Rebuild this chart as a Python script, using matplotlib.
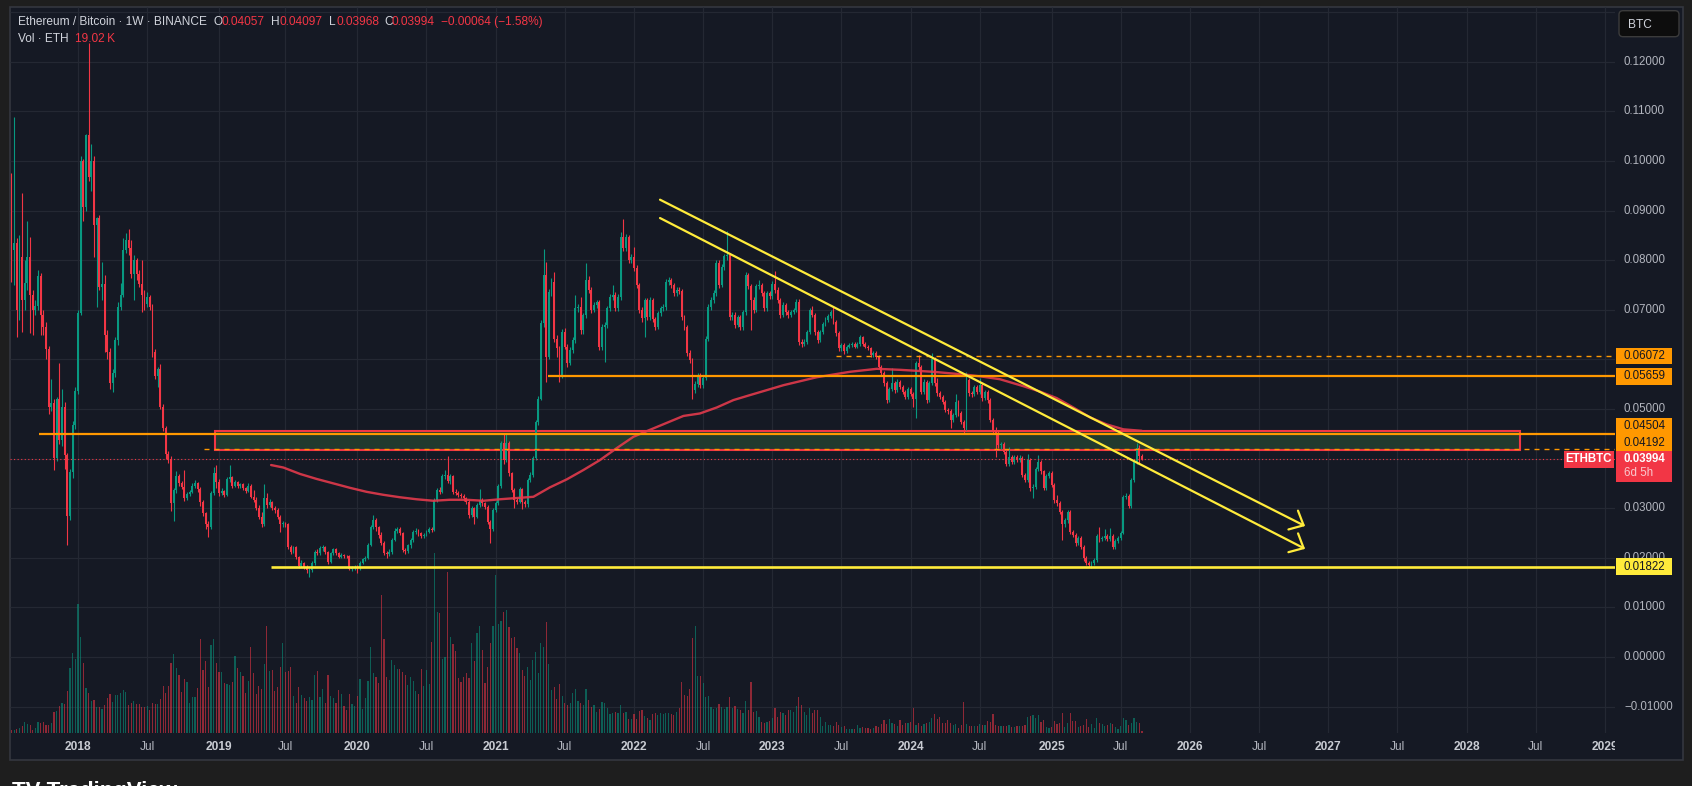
import datetime as dt
import numpy as np
import matplotlib
matplotlib.use("Agg")
import matplotlib.pyplot as plt
from matplotlib.patches import Rectangle, FancyBboxPatch
from matplotlib.transforms import IdentityTransform, Bbox, blended_transform_factory

plt.rcParams['font.family'] = ['Liberation Sans', 'DejaVu Sans']

W, H, DPI = 1692, 786, 100

# ---------------- data (prices in units of 0.0001 BTC) ----------------
first_week = dt.date(2017, 7, 10)
price_unit = 1e-4
first_open = 970

close = [
    821, 834, 700, 807, 720, 755, 807, 730, 700, 708,
    768, 690, 665, 620, 505, 512, 401, 520, 438, 505,
    407, 284, 373, 468, 537, 693, 1000, 908, 1052, 968,
    1000, 870, 885, 746, 752, 650, 615, 552, 572, 639,
    706, 730, 821, 840, 825, 773, 800, 773, 752, 730,
    712, 725, 706, 615, 567, 580, 505, 461, 410, 400,
    310, 336, 364, 350, 342, 320, 328, 333, 345, 350,
    338, 313, 290, 268, 262, 330, 370, 352, 330, 334,
    327, 358, 362, 345, 352, 344, 348, 340, 335, 345,
    323, 317, 300, 283, 269, 320, 306, 312, 300, 297,
    283, 269, 270, 268, 222, 212, 222, 202, 184, 189,
    182, 175, 176, 189, 212, 209, 219, 222, 212, 192,
    209, 217, 210, 202, 206, 204, 203, 177, 179, 182,
    179, 190, 197, 199, 226, 263, 277, 262, 246, 229,
    209, 208, 212, 236, 255, 259, 250, 216, 214, 225,
    236, 253, 255, 249, 244, 246, 253, 259, 257, 317,
    337, 333, 364, 367, 354, 364, 333, 331, 327, 324,
    320, 313, 286, 300, 283, 306, 317, 310, 303, 273,
    259, 296, 310, 344, 431, 397, 431, 370, 337, 316,
    313, 338, 313, 308, 357, 367, 401, 474, 521, 673,
    770, 605, 736, 757, 642, 622, 568, 656, 626, 593,
    619, 639, 703, 706, 659, 689, 761, 740, 700, 710,
    716, 624, 666, 670, 703, 726, 730, 703, 726, 847,
    824, 847, 800, 807, 784, 750, 700, 683, 720, 686,
    720, 681, 666, 693, 703, 706, 757, 760, 750, 733,
    740, 738, 686, 666, 612, 599, 538, 550, 568, 548,
    562, 642, 706, 720, 733, 795, 750, 787, 808, 810,
    686, 690, 670, 686, 666, 696, 770, 747, 720, 700,
    747, 750, 733, 703, 733, 727, 753, 740, 720, 690,
    710, 696, 690, 696, 700, 716, 636, 632, 636, 656,
    700, 690, 656, 640, 656, 672, 680, 688, 696, 676,
    653, 622, 630, 616, 626, 630, 632, 626, 632, 645,
    632, 626, 622, 609, 613, 605, 585, 572, 552, 518,
    541, 552, 538, 555, 545, 535, 525, 541, 531, 520,
    592, 585, 535, 555, 518, 552, 600, 552, 532, 525,
    515, 498, 495, 478, 488, 515, 491, 474, 461, 558,
    532, 530, 545, 535, 548, 522, 535, 518, 478, 458,
    451, 427, 429, 414, 390, 404, 394, 404, 398, 401,
    367, 357, 397, 340, 343, 380, 394, 374, 340, 364,
    370, 347, 316, 310, 293, 269, 276, 293, 253, 246,
    229, 239, 222, 199, 189, 186, 189, 196, 243, 237,
    239, 243, 238, 243, 222, 233, 239, 251, 323, 325,
    304, 357, 394, 421, 405.7, 399.4,
]

high = [
    975, 1088, 845, 850, 935, 800, 880, 847, 740, 720,
    780, 775, 700, 675, 628, 560, 520, 525, 593, 540,
    515, 412, 380, 475, 545, 700, 1010, 1005, 1055, 1237,
    1035, 1010, 888, 892, 796, 770, 660, 622, 580, 645,
    715, 755, 845, 855, 862, 840, 810, 805, 780, 800,
    740, 735, 730, 712, 620, 585, 590, 510, 465, 415,
    405, 340, 375, 368, 355, 378, 333, 337, 350, 356,
    352, 342, 316, 293, 275, 335, 384, 387, 358, 340,
    336, 362, 387, 364, 356, 354, 351, 350, 342, 350,
    348, 337, 323, 306, 293, 349, 330, 318, 315, 305,
    300, 287, 275, 273, 270, 225, 224, 224, 204, 195,
    192, 186, 180, 193, 215, 217, 224, 226, 224, 214,
    212, 220, 220, 212, 209, 208, 206, 205, 184, 185,
    186, 193, 200, 203, 230, 266, 286, 280, 265, 252,
    233, 213, 218, 240, 260, 263, 262, 253, 220, 228,
    240, 257, 260, 258, 252, 250, 256, 262, 263, 320,
    341, 342, 368, 377, 405, 368, 366, 338, 335, 331,
    328, 323, 316, 305, 303, 310, 338, 320, 313, 306,
    277, 300, 315, 348, 436, 451, 451, 436, 373, 340,
    320, 342, 340, 316, 360, 372, 405, 478, 526, 680,
    822, 797, 742, 765, 777, 650, 628, 662, 664, 632,
    624, 645, 730, 712, 726, 694, 794, 768, 745, 716,
    720, 720, 672, 676, 708, 731, 750, 735, 732, 857,
    883, 852, 851, 813, 827, 790, 755, 706, 724, 724,
    725, 724, 686, 697, 708, 712, 762, 766, 764, 755,
    745, 746, 742, 690, 670, 618, 603, 556, 573, 572,
    566, 647, 712, 725, 740, 800, 800, 792, 813, 858,
    815, 696, 695, 690, 690, 700, 776, 775, 752, 726,
    752, 760, 755, 737, 738, 738, 758, 779, 745, 724,
    715, 714, 700, 700, 704, 721, 721, 642, 641, 660,
    704, 708, 694, 660, 660, 676, 685, 692, 700, 708,
    680, 657, 634, 634, 630, 634, 636, 636, 636, 650,
    648, 636, 630, 626, 617, 616, 608, 589, 576, 556,
    545, 582, 556, 560, 558, 549, 539, 545, 544, 535,
    597, 609, 589, 560, 559, 556, 612, 604, 563, 536,
    529, 519, 503, 499, 492, 530, 519, 495, 478, 575,
    562, 537, 549, 549, 562, 552, 539, 539, 522, 482,
    464, 455, 434, 433, 418, 423, 408, 408, 407, 407,
    405, 371, 410, 401, 348, 384, 407, 398, 378, 368,
    375, 374, 351, 327, 314, 297, 281, 297, 297, 257,
    250, 243, 243, 226, 203, 193, 193, 200, 247, 263,
    244, 258, 247, 261, 247, 237, 243, 255, 327, 330,
    329, 361, 398, 432, 428, 409.7,
]

low = [
    757, 750, 646, 680, 655, 700, 740, 653, 650, 690,
    700, 650, 650, 600, 490, 495, 378, 395, 430, 425,
    380, 226, 276, 360, 460, 530, 690, 880, 900, 960,
    940, 807, 706, 740, 720, 615, 600, 540, 535, 565,
    630, 700, 725, 815, 810, 765, 720, 760, 745, 695,
    700, 705, 700, 605, 560, 545, 500, 455, 400, 392,
    295, 275, 330, 345, 338, 315, 316, 324, 330, 340,
    332, 305, 284, 258, 242, 258, 326, 340, 325, 326,
    322, 325, 352, 340, 342, 340, 340, 336, 330, 332,
    320, 312, 296, 278, 262, 265, 300, 302, 296, 290,
    278, 253, 262, 262, 218, 208, 210, 198, 180, 181,
    178, 170, 162, 172, 186, 205, 206, 214, 208, 188,
    190, 206, 206, 199, 200, 200, 199, 175, 174, 176,
    170, 176, 187, 194, 197, 224, 258, 255, 240, 226,
    205, 200, 204, 208, 233, 250, 245, 212, 208, 210,
    220, 232, 248, 244, 240, 240, 243, 250, 253, 255,
    313, 328, 330, 358, 350, 348, 329, 326, 322, 320,
    315, 308, 280, 283, 269, 280, 302, 305, 298, 268,
    229, 255, 292, 306, 340, 390, 393, 365, 332, 300,
    308, 310, 298, 303, 303, 352, 362, 398, 468, 518,
    665, 555, 600, 728, 636, 605, 555, 562, 620, 585,
    588, 612, 634, 695, 652, 652, 684, 733, 694, 695,
    704, 618, 618, 594, 664, 698, 720, 697, 698, 720,
    818, 818, 794, 795, 778, 744, 694, 676, 646, 680,
    680, 676, 660, 661, 688, 698, 700, 750, 744, 727,
    728, 732, 680, 660, 606, 592, 521, 532, 544, 542,
    542, 558, 638, 700, 714, 728, 744, 745, 780, 800,
    680, 680, 664, 665, 660, 660, 690, 741, 659, 694,
    695, 742, 727, 697, 698, 721, 722, 734, 714, 684,
    685, 690, 684, 686, 692, 696, 630, 626, 628, 632,
    652, 685, 650, 634, 636, 652, 668, 676, 684, 671,
    648, 617, 617, 611, 612, 622, 626, 622, 622, 628,
    628, 622, 618, 604, 605, 600, 580, 567, 547, 513,
    514, 537, 533, 534, 540, 530, 520, 521, 526, 505,
    481, 579, 530, 530, 513, 514, 548, 547, 527, 520,
    510, 493, 489, 461, 473, 484, 486, 469, 452, 457,
    527, 524, 526, 530, 531, 517, 518, 513, 473, 452,
    404, 422, 420, 409, 385, 386, 389, 390, 393, 394,
    362, 352, 353, 335, 320, 339, 376, 369, 337, 336,
    360, 342, 311, 305, 288, 236, 263, 271, 248, 241,
    224, 225, 217, 194, 185, 181, 179, 185, 192, 232,
    233, 235, 234, 234, 218, 218, 229, 235, 247, 318,
    300, 300, 352, 389, 390, 396.8,
]

# weekly volume (relative units)
volume = [
    3, 3, 4, 5, 7, 11, 9, 8, 3, 5, 11, 10, 11, 8, 8, 10,
    21, 22, 27, 30, 29, 42, 65, 80, 74, 129, 96,
    70, 45, 40, 32, 33, 26, 26, 24, 28, 35,
    39, 31, 38, 38, 40, 43, 41, 28, 30, 32,
    29, 29, 26, 26, 27, 23, 30, 29, 29, 34,
    47, 40, 47, 70, 79, 65, 58, 41, 54, 51,
    30, 36, 36, 45, 94, 63, 72, 46, 88, 94,
    70, 61, 61, 50, 49, 48, 51, 77, 65, 61,
    57, 40, 52, 86, 60, 39, 47, 44, 69, 107,
    62, 63, 42, 46, 66, 90, 61, 62, 66, 37,
    30, 46, 38, 35, 32, 36, 33, 58, 62, 36,
    44, 30, 58, 37, 35, 30, 43, 39, 27, 23,
    39, 29, 27, 37, 54, 24, 35, 52, 86, 60,
    56, 50, 138, 94, 56, 53, 73, 68, 64, 64,
    61, 58, 48, 56, 52, 42, 39, 64, 47, 63,
    49, 91, 180, 121, 120, 74, 76, 161, 96, 89,
    82, 55, 51, 56, 60, 55, 90, 72, 100, 107,
    83, 50, 66, 90, 107, 158, 109, 112, 121, 123,
    106, 95, 96, 85, 80, 63, 57, 66, 53, 73,
    81, 60, 90, 86, 111, 69, 43, 46, 34, 49,
    37, 30, 28, 30,
    40, 44, 32, 30, 28, 44, 33, 26, 28, 21,
    24, 31, 30, 25, 19, 20, 21, 20, 28, 20,
    21, 14, 14, 19, 14, 22, 23, 17, 15, 13,
    19, 20, 18, 20, 19, 20, 20, 19, 18, 21,
    25, 51, 38, 37, 44, 95, 107, 57, 57, 50,
    36, 37, 26, 24, 25, 29, 26, 24, 26, 36,
    25, 27, 24, 23, 20, 32, 23, 51, 21, 22,
    16, 11, 10, 11, 12, 15, 25, 16, 21, 20,
    18, 23, 23, 21, 27, 36, 28, 21, 18, 25,
    20, 23, 23, 16, 7, 11, 8, 8, 7, 11,
    8, 6, 7, 4, 4, 4, 4, 8, 5, 6,
    5, 5, 4, 5, 7, 6, 9, 13, 9, 14,
    10, 9, 7, 13, 8, 10, 10, 11, 25, 8,
    10, 7, 9, 10, 11, 15, 19, 14, 16, 10,
    10, 13, 10, 8, 9, 5, 8, 31, 9, 7,
    7, 7, 7, 9, 8, 8, 12, 11, 19, 8,
    7, 7, 7, 7, 8, 6, 6, 7, 7, 7,
    8, 16, 17, 18, 15, 18, 11, 13, 6, 5,
    6, 12, 9, 10, 20, 6, 10, 20, 12, 12,
    6, 7, 8, 14, 6, 9, 5, 15, 10, 9,
    7, 8, 10, 9, 6, 4, 7, 15, 13, 8,
    10, 15, 11, 10, 2,
]

# moving-average line (week index, price)
ma_week = [97.6, 102.2, 108.5, 114.7, 121.0, 127.3, 133.5, 139.8, 146.1, 152.3,
           158.6, 164.8, 171.1, 177.4, 183.6, 196.2, 202.4, 208.7, 215.0, 221.2,
           227.5, 233.8, 240.0, 246.3, 252.6, 258.8, 265.1, 271.4, 277.6, 290.2,
           302.7, 315.2, 325.3, 334.0, 340.3, 346.5, 352.8, 359.1, 365.3, 371.6,
           380.4, 386.7, 392.9, 399.2, 405.5, 411.7, 418.0, 424.9]
ma_value = [0.0387, 0.0382, 0.0369, 0.0359, 0.0350, 0.0341, 0.0333, 0.0327, 0.0322, 0.0318,
            0.0315, 0.0317, 0.0317, 0.0315, 0.0318, 0.0323, 0.0342, 0.0358, 0.0377, 0.0397,
            0.0421, 0.0444, 0.0458, 0.0472, 0.0486, 0.0491, 0.0503, 0.0518, 0.0528, 0.0548,
            0.0564, 0.0575, 0.0581, 0.0579, 0.0577, 0.0575, 0.0572, 0.0569, 0.0565, 0.0560,
            0.0546, 0.0535, 0.0522, 0.0503, 0.0483, 0.0469, 0.0459, 0.0456]

price_ticks = [-0.01, 0.0, 0.01, 0.02, 0.03, 0.04, 0.05, 0.06, 0.07, 0.08, 0.09,
               0.10, 0.11, 0.12, 0.13]
time_ticks = [(y, m) for y in range(2018, 2030) for m in (1, 7)]

level_price = [0.06072, 0.05659, 0.04504, 0.04192, 0.01822]
level_start = [309.9, 201.7, 10.3, 72.4, 97.6]
level_dashed = [True, False, False, True, False]
level_color = ['#ff9800', '#ff9800', '#ff9800', '#ff9800', '#ffeb3b']

zone_weeks = [76.5, 567.1]
zone_prices = [0.0417, 0.0456]

trend_weeks = [243.8, 486.3]
trend_upper = [0.0922, 0.0264]
trend_lower = [0.0885, 0.0218]

last_price = 0.03994

# ---------------- styling ----------------
BG = '#151924'
OUTER = '#1e1e1e'
GRID = '#242833'
UP = '#089981'
DN = '#f23645'
AXTXT = '#b2b5be'
px = IdentityTransform()

fig = plt.figure(figsize=(W / DPI, H / DPI), dpi=DPI)
fig.patch.set_facecolor(OUTER)
fig.add_artist(Rectangle((10, H - 760), 1673, 753, transform=px, facecolor=BG,
                         edgecolor='#34373f', lw=1.2, zorder=-5))

rect = [10 / W, (H - 733) / H, 1605 / W, 726 / H]
ax_bg = fig.add_axes(rect, zorder=0)
ax_v = fig.add_axes(rect, zorder=1)
ax = fig.add_axes(rect, zorder=2)
XL = (-0.56, 602.8)
YL = (-76 / 4960, 650 / 4960)
for a in (ax_bg, ax_v, ax):
    a.set_facecolor('none')
    a.set_axis_off()
    a.set_xlim(*XL)
ax_bg.set_ylim(*YL)
ax.set_ylim(*YL)
ax_v.set_ylim(0, 726)


def week_of(d):
    return (d - first_week).days / 7.0


def first_monday(y, m):
    d = dt.date(y, m, 1)
    return d + dt.timedelta(days=(7 - d.weekday()) % 7)


tick_x = [week_of(first_monday(y, m)) for y, m in time_ticks]

# grid
ax_bg.hlines(price_ticks, XL[0], XL[1], colors=GRID, lw=0.9)
ax_bg.vlines(tick_x, YL[0], YL[1], colors=GRID, lw=0.9)

# data arrays
N = len(close)
c = np.array(close, float) * price_unit
o = np.concatenate([[first_open * price_unit], c[:-1]])
hi = np.maximum(np.array(high, float) * price_unit, np.maximum(o, c))
lo = np.minimum(np.array(low, float) * price_unit, np.minimum(o, c))
x = np.arange(N)
up = c >= o
cols = np.where(up, UP, DN)

# volume
ax_v.bar(x, volume, width=0.45, color=cols, alpha=0.55, lw=0)

# zone rectangle
ax.add_patch(Rectangle((zone_weeks[0], zone_prices[0]), zone_weeks[1] - zone_weeks[0],
                       zone_prices[1] - zone_prices[0], facecolor='#213a2e',
                       edgecolor=DN, lw=1.5, zorder=1.5))

# candles
ax.vlines(x, lo, hi, colors=cols, lw=0.8, zorder=3)
body_lo = np.minimum(o, c)
body_h = np.maximum(np.abs(c - o), 0.00009)
ax.bar(x, body_h, bottom=body_lo, width=0.72, color=cols, lw=0, zorder=3.1)

# moving average
ax.plot(ma_week, ma_value, color='#e23a4c', lw=1.7, alpha=0.9, zorder=3.5,
        solid_capstyle='round')

# horizontal levels
for p, s, dsh, col in zip(level_price, level_start, level_dashed, level_color):
    if dsh:
        ax.hlines(p, s, XL[1], colors=col, lw=1.0, linestyles=[(0, (3.6, 3.6))], zorder=4)
    else:
        ax.hlines(p, s, XL[1], colors=col, lw=1.6 if col == '#ff9800' else 1.9, zorder=4)

# current price dotted line
ax.axhline(last_price, color=DN, lw=0.8, ls=(0, (1, 2.2)), zorder=3.6)

# trend lines with arrows
for ys in (trend_upper, trend_lower):
    ax.annotate('', xy=(trend_weeks[1], ys[1]), xytext=(trend_weeks[0], ys[0]),
                arrowprops=dict(arrowstyle='->,head_length=0.42,head_width=0.38',
                                color='#ffeb3b', lw=1.6, shrinkA=0, shrinkB=0,
                                mutation_scale=20), zorder=6)


# ---------------- right-hand price labels (positions) ----------------
def ydisp(p):
    return ax.transData.transform((0, p))[1]


Yp = ydisp(last_price)
price_top, price_bot = Yp + 8, Yp - 23
labels = []
for p, col in zip(level_price, level_color):
    labels.append([ydisp(p), f"{p:.5f}", col])
LH = 16.5
above = sorted([lb for lb in labels if lb[0] >= Yp], key=lambda t: t[0])
floor = price_top
for lb in above:
    if lb[0] - LH / 2 < floor:
        lb[0] = floor + LH / 2
    floor = lb[0] + LH / 2
below = sorted([lb for lb in labels if lb[0] < Yp], key=lambda t: -t[0])
ceil_ = price_bot
for lb in below:
    if lb[0] + LH / 2 > ceil_:
        lb[0] = ceil_ - LH / 2
    ceil_ = lb[0] - LH / 2
spans = [(lb[0] - LH / 2, lb[0] + LH / 2) for lb in labels] + [(price_bot, price_top)]

# ---------------- axis labels ----------------
ty = blended_transform_factory(px, ax.transData)
for p in price_ticks:
    if p > 0.125:
        continue
    yy = ydisp(p)
    if any(a0 <= yy - 4 and yy + 4 <= a1 for a0, a1 in spans):
        continue  # fully hidden behind a price label box
    fig.text(1624, p, f"{p:.5f}".replace('-', '\u2212'), transform=ty, color=AXTXT,
             fontsize=8.3, va='center', ha='left', zorder=3)

tx = blended_transform_factory(ax.transData, px)
clip = Bbox([[10, 0], [1615, 80]])
for (y, m), xv in zip(time_ticks, tick_x):
    lab = str(y) if m == 1 else 'Jul'
    t = fig.text(xv, H - 747, lab, transform=tx, color=AXTXT if m == 7 else '#c9ccd3',
                 fontsize=8.6, va='center', ha='center', zorder=3,
                 fontweight='bold' if m == 1 else 'normal')
    t.set_clip_box(clip)
    t.set_clip_on(True)

for yc, txt, col in labels:
    fig.add_artist(Rectangle((1616, yc - LH / 2), 56, LH, transform=px, facecolor=col,
                             edgecolor='none', zorder=4))
    fig.text(1624, yc, txt, transform=px, color='#131722', fontsize=8.3,
             va='center', ha='left', zorder=5)

fig.add_artist(Rectangle((1616, price_bot), 56, price_top - price_bot, transform=px,
                         facecolor=DN, edgecolor='none', zorder=4))
fig.text(1624, Yp, f"{last_price:.5f}", transform=px, color='white', fontsize=8.3,
         fontweight='bold', va='center', ha='left', zorder=5)
fig.text(1624, Yp - 14.5, '6d 5h', transform=px, color='#f9c9ce', fontsize=8.3,
         va='center', ha='left', zorder=5)
fig.add_artist(Rectangle((1564, Yp - 9), 50, 17, transform=px, facecolor=DN,
                         edgecolor='none', zorder=4))
fig.text(1589, Yp - 0.5, 'ETHBTC', transform=px, color='white', fontsize=8.3,
         fontweight='bold', va='center', ha='center', zorder=5)

# BTC button
fig.add_artist(FancyBboxPatch((1619, H - 36.7), 60, 26, transform=px,
                              boxstyle='round,pad=0,rounding_size=4', facecolor='#0d0d0d',
                              edgecolor='#3b3b3b', lw=1.0, zorder=6))
fig.text(1628, H - 24.5, 'BTC', transform=px, color='#d1d4dc', fontsize=8.6,
         va='center', ha='left', zorder=7)

# ---------------- header ----------------
GRAY = '#d1d4dc'
hy = H - 22
fig.text(18, hy, 'Ethereum / Bitcoin \u00b7 1W \u00b7 BINANCE', transform=px, color=GRAY,
         fontsize=8.6, va='center', ha='left')
for xx, s, col in [(214, 'O', GRAY), (222, '0.04057', DN), (271, 'H', GRAY),
                   (279, '0.04097', DN), (329, 'L', GRAY), (336.5, '0.03968', DN),
                   (384, 'C', GRAY), (391.5, '0.03994', DN),
                   (441, '\u22120.00064 (\u22121.58%)', DN)]:
    fig.text(xx, hy, s, transform=px, color=col, fontsize=8.6, va='center', ha='left')
fig.text(18, H - 39, 'Vol \u00b7 ETH', transform=px, color=GRAY, fontsize=8.6,
         va='center', ha='left')
fig.text(75, H - 39, '19.02\u2009K', transform=px, color=DN, fontsize=8.6,
         va='center', ha='left')

# footer logo (mostly cut off, as in the reference)
fig.text(12, H - 781, 'TV TradingView', transform=px, color='white', fontsize=16,
         fontweight='bold', va='top', ha='left')

assert len(close) == len(high) == len(low) == len(volume) == 426

fig.savefig('out.png', dpi=DPI, facecolor=OUTER)
